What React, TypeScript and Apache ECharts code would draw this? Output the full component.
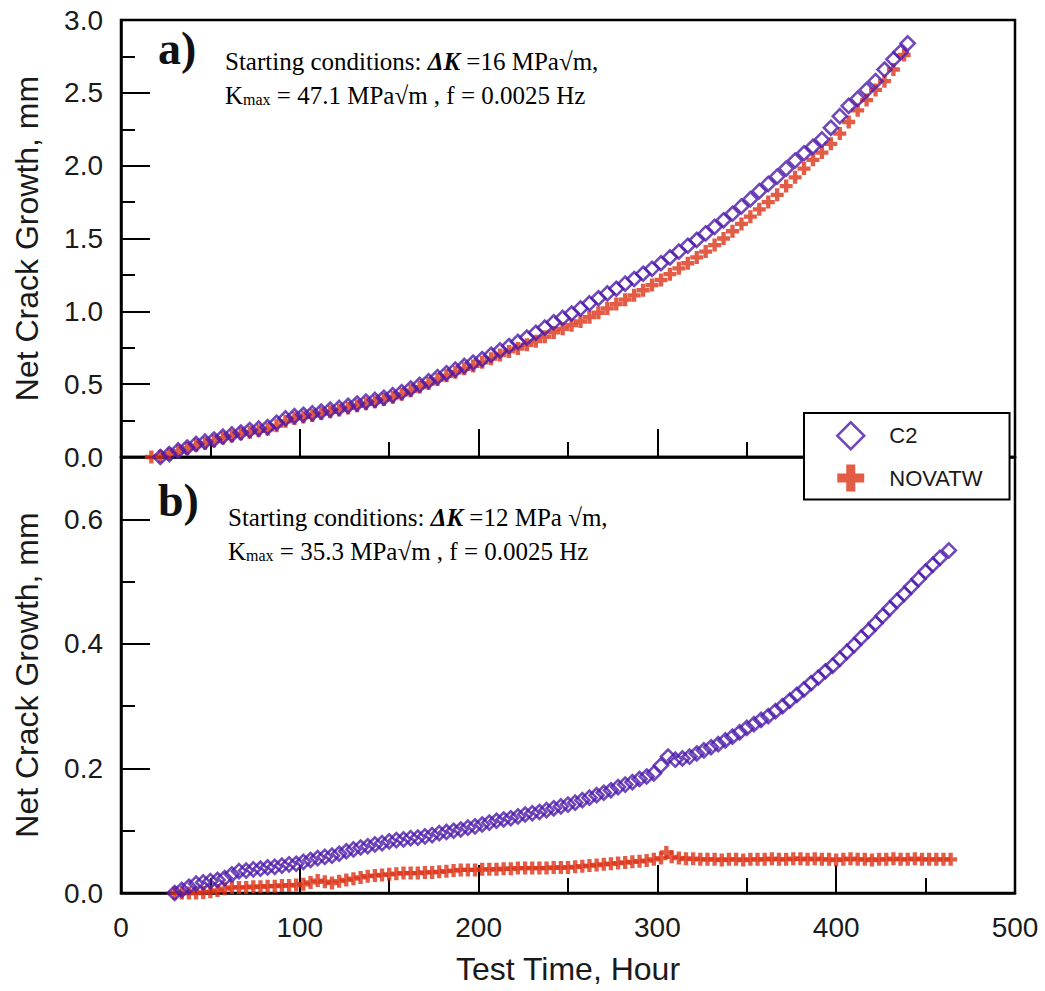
import React, { useEffect, useRef } from "react";
import * as echarts from "echarts";

// ---------- Data (hours, mm) ----------
const c2PanelA: [number, number][] = [
  [22, 0.0], [27, 0.02], [32, 0.045], [37, 0.065], [42, 0.09], [47, 0.105], [52, 0.12], [57, 0.14],
  [62, 0.155], [67, 0.168], [72, 0.185], [77, 0.195], [82, 0.205], [87, 0.235], [92, 0.265], [97, 0.28],
  [102, 0.29], [107, 0.3], [112, 0.312], [117, 0.325], [122, 0.337], [127, 0.352], [132, 0.367], [137, 0.38],
  [142, 0.392], [147, 0.407], [152, 0.425], [157, 0.445], [162, 0.47], [167, 0.495], [172, 0.52], [177, 0.548],
  [182, 0.575], [187, 0.6], [192, 0.625], [197, 0.648], [202, 0.672], [207, 0.702], [212, 0.732], [217, 0.762],
  [222, 0.79], [227, 0.82], [232, 0.853], [237, 0.888], [242, 0.925], [247, 0.955], [252, 0.985], [257, 1.02],
  [262, 1.055], [267, 1.09], [272, 1.123], [277, 1.155], [282, 1.19], [287, 1.222], [292, 1.258], [297, 1.292],
  [302, 1.33], [307, 1.37], [312, 1.41], [317, 1.45], [322, 1.49], [327, 1.535], [332, 1.58], [337, 1.625],
  [342, 1.67], [347, 1.72], [352, 1.77], [357, 1.825], [362, 1.875], [367, 1.925], [372, 1.98], [377, 2.035],
  [382, 2.085], [387, 2.13], [392, 2.18], [397, 2.26], [402, 2.34], [407, 2.41], [412, 2.46], [417, 2.52],
  [422, 2.58], [427, 2.66], [432, 2.73], [436, 2.78], [440, 2.84],
];

const novatwPanelA: [number, number][] = [
  [17, 0.0], [22, 0.005], [27, 0.02], [32, 0.04], [37, 0.06], [42, 0.08], [47, 0.095], [52, 0.11],
  [57, 0.13], [62, 0.145], [67, 0.16], [72, 0.17], [77, 0.18], [82, 0.19], [87, 0.215], [92, 0.245],
  [97, 0.265], [102, 0.275], [107, 0.285], [112, 0.298], [117, 0.31], [122, 0.322], [127, 0.337], [132, 0.352],
  [137, 0.365], [142, 0.38], [147, 0.395], [152, 0.41], [157, 0.43], [162, 0.455], [167, 0.48], [172, 0.505],
  [177, 0.532], [182, 0.558], [187, 0.582], [192, 0.605], [197, 0.625], [202, 0.65], [207, 0.675], [212, 0.7],
  [217, 0.725], [222, 0.745], [227, 0.77], [232, 0.795], [237, 0.825], [242, 0.855], [247, 0.88], [252, 0.905],
  [257, 0.93], [262, 0.96], [267, 0.99], [272, 1.02], [277, 1.05], [282, 1.08], [287, 1.11], [292, 1.145],
  [297, 1.18], [302, 1.215], [307, 1.255], [312, 1.295], [317, 1.33], [322, 1.37], [327, 1.41], [332, 1.455],
  [337, 1.5], [342, 1.55], [347, 1.6], [352, 1.65], [357, 1.7], [362, 1.75], [367, 1.8], [372, 1.86],
  [377, 1.92], [382, 1.98], [387, 2.04], [392, 2.09], [397, 2.15], [402, 2.22], [407, 2.3], [412, 2.38],
  [417, 2.45], [422, 2.52], [427, 2.58], [432, 2.66], [438, 2.76],
];

const c2PanelB: [number, number][] = [
  [30, 0.0], [34, 0.005], [38, 0.01], [42, 0.015], [46, 0.017], [50, 0.019], [54, 0.021], [58, 0.024],
  [62, 0.03], [66, 0.035], [70, 0.036], [74, 0.038], [78, 0.039], [82, 0.041], [86, 0.042], [90, 0.044],
  [94, 0.046], [98, 0.047], [102, 0.05], [106, 0.053], [110, 0.056], [114, 0.058], [118, 0.06], [122, 0.063],
  [126, 0.067], [130, 0.07], [134, 0.073], [138, 0.075], [142, 0.078], [146, 0.08], [150, 0.083], [154, 0.085],
  [158, 0.086], [162, 0.088], [166, 0.089], [170, 0.091], [174, 0.093], [178, 0.096], [182, 0.098], [186, 0.1],
  [190, 0.102], [194, 0.105], [198, 0.107], [202, 0.11], [206, 0.113], [210, 0.116], [214, 0.118], [218, 0.12],
  [222, 0.123], [226, 0.126], [230, 0.128], [234, 0.13], [238, 0.133], [242, 0.136], [246, 0.139], [250, 0.142],
  [254, 0.145], [258, 0.149], [262, 0.153], [266, 0.157], [270, 0.161], [274, 0.165], [278, 0.17], [282, 0.174],
  [286, 0.178], [290, 0.183], [294, 0.187], [298, 0.192], [302, 0.205], [306, 0.219], [310, 0.214], [314, 0.216],
  [318, 0.219], [322, 0.224], [326, 0.229], [330, 0.234], [334, 0.239], [338, 0.245], [342, 0.251], [346, 0.258],
  [350, 0.265], [354, 0.271], [358, 0.278], [362, 0.284], [366, 0.292], [370, 0.3], [374, 0.309], [378, 0.318],
  [382, 0.327], [386, 0.337], [390, 0.346], [394, 0.356], [398, 0.365], [402, 0.376], [406, 0.387], [410, 0.398],
  [414, 0.41], [418, 0.421], [422, 0.433], [426, 0.445], [430, 0.457], [434, 0.469], [438, 0.48], [442, 0.492],
  [446, 0.504], [450, 0.516], [454, 0.527], [458, 0.538], [463, 0.55],
];

const novatwPanelB: [number, number][] = [
  [30, 0.0], [34, 0.0], [38, 0.0], [42, 0.0], [46, 0.001], [50, 0.002], [54, 0.004], [58, 0.007],
  [62, 0.009], [66, 0.009], [70, 0.009], [74, 0.01], [78, 0.01], [82, 0.011], [86, 0.011], [90, 0.012],
  [94, 0.012], [98, 0.013], [102, 0.014], [106, 0.017], [110, 0.02], [114, 0.018], [118, 0.016], [122, 0.019],
  [126, 0.021], [130, 0.023], [134, 0.025], [138, 0.027], [142, 0.028], [146, 0.029], [150, 0.03], [154, 0.031],
  [158, 0.032], [162, 0.032], [166, 0.032], [170, 0.033], [174, 0.033], [178, 0.034], [182, 0.035], [186, 0.036],
  [190, 0.037], [194, 0.037], [198, 0.037], [202, 0.038], [206, 0.038], [210, 0.038], [214, 0.039], [218, 0.039],
  [222, 0.04], [226, 0.04], [230, 0.04], [234, 0.04], [238, 0.04], [242, 0.041], [246, 0.041], [250, 0.041],
  [254, 0.042], [258, 0.043], [262, 0.044], [266, 0.045], [270, 0.046], [274, 0.047], [278, 0.048], [282, 0.049],
  [286, 0.05], [290, 0.051], [294, 0.052], [298, 0.054], [302, 0.056], [305, 0.065], [308, 0.058], [312, 0.056],
  [316, 0.055], [320, 0.055], [324, 0.054], [328, 0.054], [332, 0.054], [336, 0.053], [340, 0.054], [344, 0.054],
  [348, 0.053], [352, 0.054], [356, 0.054], [360, 0.054], [364, 0.055], [368, 0.054], [372, 0.054], [376, 0.055],
  [380, 0.055], [384, 0.054], [388, 0.055], [392, 0.054], [396, 0.054], [400, 0.053], [404, 0.054], [408, 0.055],
  [412, 0.054], [416, 0.054], [420, 0.053], [424, 0.054], [428, 0.054], [432, 0.055], [436, 0.054], [440, 0.054],
  [444, 0.055], [448, 0.054], [452, 0.054], [456, 0.054], [460, 0.054], [464, 0.054],
];

const seriesNames = ["C2", "NOVATW"];
const xTitle = "Test Time, Hour";
const yTitle = "Net Crack Growth, mm";
const panelALines = ["Starting conditions: ", "=16 MPa√m,", " = 47.1 MPa√m , f = 0.0025 Hz"];
const panelBLines = ["Starting conditions: ", "=12 MPa √m,", " = 35.3 MPa√m , f = 0.0025 Hz"];

// ---------- Styling ----------
const PURPLE = "#4e1aaa";
const RED = "#dc3318";
const SANS = '"Liberation Sans", Arial, sans-serif';
const SERIF = '"Liberation Serif", "Times New Roman", serif';
const INK = "#1a1a1a";
const PLUS = "path://M4,0H8V4H12V8H8V12H4V8H0V4H4Z";

const axisLine = { show: true, onZero: false, lineStyle: { color: "#000", width: 2.5 } };

function App() {
  const ref = useRef<HTMLDivElement>(null);

  useEffect(() => {
    if (!ref.current) return;
    const chart = echarts.init(ref.current, undefined, { renderer: "svg" });

    const xAxisBase = (gridIndex: number, showLabel: boolean) => ({
      type: "value" as const,
      gridIndex,
      min: 0,
      max: 500,
      interval: 100,
      axisLine,
      axisTick: { show: true, inside: true, length: 28, lineStyle: { color: "#000", width: 2 } },
      minorTick: { show: true, splitNumber: 2, length: 15, lineStyle: { color: "#000", width: 2 } },
      splitLine: { show: false },
      axisLabel: {
        show: showLabel,
        margin: 20,
        fontSize: 28,
        fontFamily: SANS,
        color: INK,
      },
    });

    const rich = {
      t: { fontSize: 25, fontFamily: SERIF, color: "#111" },
      k: { fontSize: 25, fontFamily: SERIF, color: "#111", fontWeight: "bold" as const, fontStyle: "italic" as const },
      s: { fontSize: 16, fontFamily: SERIF, color: "#111", verticalAlign: "bottom" as const, lineHeight: 14 },
    };

    const option: echarts.EChartsOption = {
      animation: false,
      backgroundColor: "#fff",
      grid: [
        { left: 121, top: 20, width: 894, height: 437, show: true, borderColor: "#000", borderWidth: 2.5, backgroundColor: "transparent" },
        { left: 121, top: 457, width: 894, height: 436, show: true, borderColor: "#000", borderWidth: 2.5, backgroundColor: "transparent" },
      ],
      xAxis: [
        xAxisBase(0, false),
        {
          ...xAxisBase(1, true),
          name: xTitle,
          nameLocation: "middle",
          nameGap: 60,
          nameTextStyle: { fontSize: 32, fontFamily: SANS, color: INK },
        },
      ],
      yAxis: [
        {
          type: "value",
          gridIndex: 0,
          position: "left",
          min: 0,
          max: 3,
          interval: 0.5,
          axisLine,
          axisTick: { show: true, inside: true, length: 29, lineStyle: { color: "#000", width: 2 } },
          minorTick: { show: true, splitNumber: 2, length: 14, lineStyle: { color: "#000", width: 2 } },
          splitLine: { show: false },
          axisLabel: { margin: 18, fontSize: 28, fontFamily: SANS, color: INK, formatter: (v: number) => v.toFixed(1) },
          name: yTitle,
          nameLocation: "middle",
          nameGap: 78,
          nameTextStyle: { fontSize: 32, fontFamily: SANS, color: INK },
        },
        {
          type: "value",
          gridIndex: 1,
          position: "left",
          offset: 0,
          min: 0,
          max: 0.7,
          interval: 0.2,
          axisLine,
          axisTick: { show: true, inside: true, length: 29, lineStyle: { color: "#000", width: 2 } },
          splitLine: { show: false },
          axisLabel: {
            margin: 18,
            fontSize: 28,
            fontFamily: SANS,
            color: INK,
            showMaxLabel: false,
            formatter: (v: number) => (v > 0.65 ? "" : v.toFixed(1)),
          },
          name: yTitle,
          nameLocation: "middle",
          nameGap: 78,
          nameTextStyle: { fontSize: 32, fontFamily: SANS, color: INK },
        },
        {
          type: "value",
          gridIndex: 1,
          position: "left",
          offset: 0,
          min: 0,
          max: 0.7,
          interval: 0.1,
          axisLine: { show: false },
          axisTick: { show: true, inside: true, length: 14, lineStyle: { color: "#000", width: 2 } },
          splitLine: { show: false },
          axisLabel: { show: false },
        },
      ],
      legend: {
        data: [
          { name: seriesNames[0], icon: "diamond", itemStyle: { color: "rgba(0,0,0,0)", borderColor: PURPLE, borderWidth: 2.5 } },
          { name: seriesNames[1], icon: PLUS, itemStyle: { color: RED, borderWidth: 0 } },
        ],
        orient: "vertical",
        left: 804,
        top: 413,
        itemWidth: 27,
        itemHeight: 27,
        itemGap: 14,
        padding: [8, 27, 8, 32],
        backgroundColor: "#fff",
        borderColor: "#000",
        borderWidth: 2,
        selectedMode: false,
        textStyle: { fontSize: 22, fontFamily: SANS, color: INK, padding: [0, 0, 0, 20] },
        z: 10,
      },
      graphic: [
        { type: "text", x: 158, y: 48, style: { text: "a)", fontSize: 46, fontWeight: "bold", fontFamily: SERIF, fill: "#111", verticalAlign: "middle" } },
        {
          type: "text",
          x: 225,
          y: 61,
          style: { text: `{t|${panelALines[0]}}{k|ΔK }{t|${panelALines[1]}}`, rich, verticalAlign: "middle", fontFamily: SERIF, fontSize: 25 },
        },
        {
          type: "text",
          x: 225,
          y: 95,
          style: { text: `{t|K}{s|max}{t|${panelALines[2]}}`, rich, verticalAlign: "middle", fontFamily: SERIF, fontSize: 25 },
        },
        { type: "text", x: 158, y: 500, style: { text: "b)", fontSize: 46, fontWeight: "bold", fontFamily: SERIF, fill: "#111", verticalAlign: "middle" } },
        {
          type: "text",
          x: 228,
          y: 517,
          style: { text: `{t|${panelBLines[0]}}{k|ΔK }{t|${panelBLines[1]}}`, rich, verticalAlign: "middle", fontFamily: SERIF, fontSize: 25 },
        },
        {
          type: "text",
          x: 228,
          y: 551,
          style: { text: `{t|K}{s|max}{t|${panelBLines[2]}}`, rich, verticalAlign: "middle", fontFamily: SERIF, fontSize: 25 },
        },
      ],
      series: [
        {
          name: seriesNames[1],
          type: "scatter",
          xAxisIndex: 0,
          yAxisIndex: 0,
          data: novatwPanelA,
          symbol: PLUS,
          symbolSize: 13,
          itemStyle: { color: RED },
          silent: true,
          z: 2,
        },
        {
          name: seriesNames[0],
          type: "scatter",
          xAxisIndex: 0,
          yAxisIndex: 0,
          data: c2PanelA,
          symbol: "diamond",
          symbolSize: 14,
          itemStyle: { color: "rgba(0,0,0,0)", borderColor: PURPLE, borderWidth: 2.6 },
          silent: true,
          z: 3,
        },
        {
          name: seriesNames[1],
          type: "scatter",
          xAxisIndex: 1,
          yAxisIndex: 1,
          data: novatwPanelB,
          symbol: PLUS,
          symbolSize: 13,
          itemStyle: { color: RED },
          silent: true,
          z: 2,
        },
        {
          name: seriesNames[0],
          type: "scatter",
          xAxisIndex: 1,
          yAxisIndex: 1,
          data: c2PanelB,
          symbol: "diamond",
          symbolSize: 14,
          itemStyle: { color: "rgba(0,0,0,0)", borderColor: PURPLE, borderWidth: 2.6 },
          silent: true,
          z: 3,
        },
      ],
    };

    chart.setOption(option);
    return () => chart.dispose();
  }, []);

  return (
    <div
      ref={ref}
      style={{ position: "absolute", left: 0, top: 0, width: 1045, height: 991, background: "#fff" }}
    />
  );
}

export default App;
